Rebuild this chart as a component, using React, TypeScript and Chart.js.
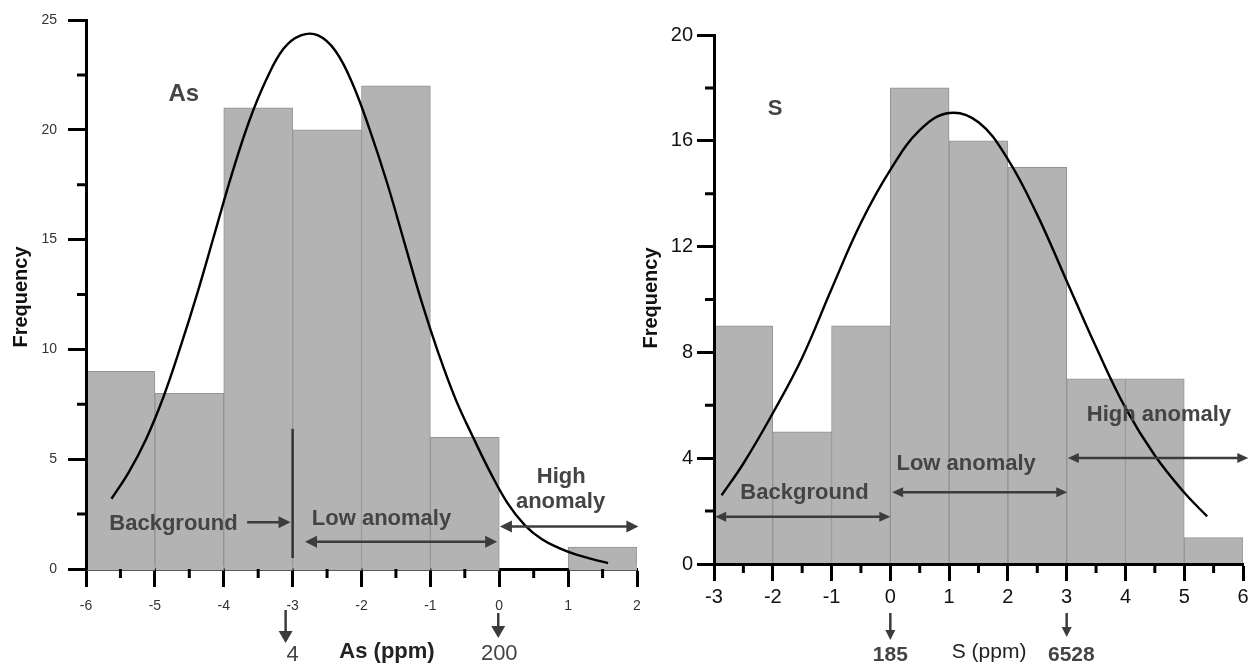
import React, { useEffect, useRef } from "react";
import { Chart, registerables } from "chart.js";

Chart.register(...registerables);

const FONT = "'Liberation Sans', Arial, Helvetica, sans-serif";

// ---------- As histogram (left) ----------
const asBinCenters = [-5.5, -4.5, -3.5, -2.5, -1.5, -0.5, 0.5, 1.5];
const asFrequencies = [9, 8, 21, 20, 22, 6, 0, 1];
const asCurveX = [-5.63, -5.38, -5.13, -4.88, -4.63, -4.38, -4.13, -3.88, -3.63, -3.38, -3.13, -2.88, -2.63, -2.38, -2.13, -1.88, -1.63, -1.38, -1.13, -0.88, -0.63, -0.38, -0.13, 0.12, 0.37, 0.62, 0.87, 1.12, 1.35, 1.58];
const asCurveY = [3.2, 4.4, 5.9, 7.8, 10.1, 12.6, 15.3, 18.0, 20.4, 22.3, 23.7, 24.3, 24.3, 23.6, 22.1, 20.0, 17.6, 14.9, 12.2, 9.8, 7.7, 6.0, 4.4, 3.0, 2.0, 1.35, 0.95, 0.65, 0.45, 0.27];

// ---------- S histogram (right) ----------
const sBinCenters = [-2.5, -1.5, -0.5, 0.5, 1.5, 2.5, 3.5, 4.5, 5.5];
const sFrequencies = [9, 5, 9, 18, 16, 15, 7, 7, 1];
const sCurveX = [-2.87, -2.5, -2.0, -1.5, -1.0, -0.5, 0.0, 0.5, 1.0, 1.5, 2.0, 2.5, 3.0, 3.5, 4.0, 4.5, 5.0, 5.39];
const sCurveY = [2.6, 3.8, 5.7, 7.8, 10.4, 12.9, 14.9, 16.4, 17.05, 16.7, 15.3, 13.2, 10.7, 8.2, 5.9, 4.1, 2.7, 1.8];

type TextItem = { text: string; x: number; y: number; size: number; bold: boolean; color: string };
type HArrow = { x1: number; x2: number; y: number; start: boolean; end: boolean };
type VLine = { x: number; y1: number; y2: number };
type BelowArrow = { x: number; dx: number; dy1: number; dy2: number };
type BelowText = { text: string; x: number; dy: number; size: number; bold: boolean; color: string };

interface PanelSpec {
  left: number;
  width: number;
  height: number;
  area: { left: number; right: number; top: number; bottom: number };
  xMin: number;
  xMax: number;
  yMax: number;
  yStep: number;
  yMinorOffset: number;
  binCenters: number[];
  freqs: number[];
  curveX: number[];
  curveY: number[];
  tickSize: number;
  tickColor: string;
  xPad: number;
  yPad: number;
  majorLen: number;
  minorLen: number;
  axisOverBars: boolean;
  texts: TextItem[];
  arrows: HArrow[];
  vlines: VLine[];
  belowArrows: BelowArrow[];
  belowTexts: BelowText[];
  yTitle: { x: number; y: number; size: number };
  headLen: number;
  headHalf: number;
  vHeadLen: number;
  vHeadHalf: number;
}

const ANN = "#444444";
const BAR_FILL = "#b3b3b3";

const asPanel: PanelSpec = {
  left: 0,
  width: 645,
  height: 663,
  area: { left: 86, right: 637, top: 20, bottom: 569 },
  xMin: -6,
  xMax: 2,
  yMax: 25,
  yStep: 5,
  yMinorOffset: 2.5,
  binCenters: asBinCenters,
  freqs: asFrequencies,
  curveX: asCurveX,
  curveY: asCurveY,
  tickSize: 14,
  tickColor: "#333",
  xPad: 11,
  yPad: 11,
  majorLen: 18,
  minorLen: 9,
  axisOverBars: false,
  texts: [
    { text: "As", x: -4.58, y: 21.31, size: 24, bold: true, color: ANN },
    { text: "Background", x: -4.73, y: 1.78, size: 22, bold: true, color: ANN },
    { text: "Low anomaly", x: -1.71, y: 2.0, size: 22, bold: true, color: ANN },
    { text: "High", x: 0.9, y: 3.92, size: 22, bold: true, color: ANN },
    { text: "anomaly", x: 0.89, y: 2.78, size: 22, bold: true, color: ANN },
  ],
  arrows: [
    { x1: -3.66, x2: -3.03, y: 2.13, start: false, end: true },
    { x1: -2.82, x2: -0.03, y: 1.24, start: true, end: true },
    { x1: 0.01, x2: 2.02, y: 1.93, start: true, end: true },
  ],
  vlines: [{ x: -3, y1: 0.5, y2: 6.38 }],
  belowArrows: [
    { x: -3, dx: -7, dy1: 41, dy2: 74 },
    { x: 0, dx: -1, dy1: 44, dy2: 69 },
  ],
  belowTexts: [
    { text: "4", x: -3, dy: 92, size: 22, bold: false, color: ANN },
    { text: "As (ppm)", x: -1.63, dy: 89, size: 22, bold: true, color: "#222" },
    { text: "200", x: 0, dy: 91, size: 22, bold: false, color: ANN },
  ],
  yTitle: { x: 27, y: 297, size: 20 },
  headLen: 12,
  headHalf: 6,
  vHeadLen: 12,
  vHeadHalf: 7,
};

const sPanel: PanelSpec = {
  left: 630,
  width: 624,
  height: 663,
  area: { left: 84, right: 613, top: 35, bottom: 564 },
  xMin: -3,
  xMax: 6,
  yMax: 20,
  yStep: 4,
  yMinorOffset: 2,
  binCenters: sBinCenters,
  freqs: sFrequencies,
  curveX: sCurveX,
  curveY: sCurveY,
  tickSize: 20,
  tickColor: "#111",
  xPad: 4,
  yPad: 4,
  majorLen: 17,
  minorLen: 9,
  axisOverBars: true,
  texts: [
    { text: "S", x: -1.96, y: 16.98, size: 22, bold: true, color: ANN },
    { text: "Background", x: -1.46, y: 2.46, size: 22, bold: true, color: ANN },
    { text: "Low anomaly", x: 1.29, y: 3.55, size: 22, bold: true, color: ANN },
    { text: "High anomaly", x: 4.57, y: 5.41, size: 22, bold: true, color: ANN },
  ],
  arrows: [
    { x1: -2.98, x2: 0.0, y: 1.79, start: true, end: true },
    { x1: 0.03, x2: 3.01, y: 2.71, start: true, end: true },
    { x1: 3.02, x2: 6.09, y: 4.01, start: true, end: true },
  ],
  vlines: [],
  belowArrows: [
    { x: 0, dx: 0, dy1: 49, dy2: 76 },
    { x: 3, dx: 0, dy1: 49, dy2: 73 },
  ],
  belowTexts: [
    { text: "185", x: 0, dy: 97, size: 21, bold: true, color: ANN },
    { text: "S (ppm)", x: 1.68, dy: 94, size: 21, bold: false, color: "#222" },
    { text: "6528", x: 3.08, dy: 97, size: 21, bold: true, color: ANN },
  ],
  yTitle: { x: 27, y: 298, size: 20 },
  headLen: 11,
  headHalf: 5,
  vHeadLen: 10,
  vHeadHalf: 5,
};

function head(ctx: CanvasRenderingContext2D, tx: number, ty: number, dx: number, dy: number, len: number, half: number) {
  const bx = tx - dx * len;
  const by = ty - dy * len;
  const px = -dy;
  const py = dx;
  ctx.beginPath();
  ctx.moveTo(tx, ty);
  ctx.lineTo(bx + px * half, by + py * half);
  ctx.lineTo(bx - px * half, by - py * half);
  ctx.closePath();
  ctx.fill();
}

function makeDecor(spec: PanelSpec) {
  return {
    id: "decor",
    afterDatasetsDraw(chart: any) {
      if (spec.axisOverBars) return;
      const ctx: CanvasRenderingContext2D = chart.ctx;
      const meta = chart.getDatasetMeta(1);
      ctx.save();
      ctx.fillStyle = BAR_FILL;
      meta.data.forEach((el: any, i: number) => {
        if (!(spec.freqs[i] > 0)) return;
        const p = el.getProps(["x", "base", "width"], true);
        ctx.fillRect(p.x - p.width / 2 + 1, p.base - 2, p.width - 1, 4);
      });
      ctx.restore();
    },
    afterDraw(chart: any) {
      const ctx: CanvasRenderingContext2D = chart.ctx;
      const xs = chart.scales.x;
      const ys = chart.scales.y;
      const bottom = chart.chartArea.bottom;
      const leftEdge = chart.chartArea.left;
      ctx.save();
      // minor ticks
      ctx.strokeStyle = "#000";
      ctx.lineWidth = 3;
      ctx.beginPath();
      for (let v = spec.xMin + 0.5; v < spec.xMax; v += 1) {
        const px = xs.getPixelForValue(v);
        ctx.moveTo(px, bottom);
        ctx.lineTo(px, bottom + spec.minorLen);
      }
      for (let v = spec.yMinorOffset; v < spec.yMax; v += spec.yStep) {
        const py = ys.getPixelForValue(v);
        ctx.moveTo(leftEdge, py);
        ctx.lineTo(leftEdge - spec.minorLen, py);
      }
      ctx.stroke();

      // vertical marker lines
      ctx.strokeStyle = "#333";
      ctx.lineWidth = 2.5;
      spec.vlines.forEach((l) => {
        const px = xs.getPixelForValue(l.x);
        ctx.beginPath();
        ctx.moveTo(px, ys.getPixelForValue(l.y1));
        ctx.lineTo(px, ys.getPixelForValue(l.y2));
        ctx.stroke();
      });

      // horizontal arrows
      ctx.strokeStyle = "#3c3c3c";
      ctx.fillStyle = "#3c3c3c";
      ctx.lineWidth = 2.5;
      spec.arrows.forEach((a) => {
        const x1 = xs.getPixelForValue(a.x1);
        const x2 = xs.getPixelForValue(a.x2);
        const py = ys.getPixelForValue(a.y);
        ctx.beginPath();
        ctx.moveTo(a.start ? x1 + spec.headLen - 1 : x1, py);
        ctx.lineTo(a.end ? x2 - spec.headLen + 1 : x2, py);
        ctx.stroke();
        if (a.start) head(ctx, x1, py, -1, 0, spec.headLen, spec.headHalf);
        if (a.end) head(ctx, x2, py, 1, 0, spec.headLen, spec.headHalf);
      });

      // below-axis arrows
      spec.belowArrows.forEach((a) => {
        const px = xs.getPixelForValue(a.x) + a.dx;
        const y1 = bottom + a.dy1;
        const y2 = bottom + a.dy2;
        ctx.beginPath();
        ctx.moveTo(px, y1);
        ctx.lineTo(px, y2 - spec.vHeadLen + 1);
        ctx.stroke();
        head(ctx, px, y2, 0, 1, spec.vHeadLen, spec.vHeadHalf);
      });

      // texts
      ctx.textAlign = "center";
      ctx.textBaseline = "alphabetic";
      spec.texts.forEach((t) => {
        ctx.font = `${t.bold ? "bold " : ""}${t.size}px ${FONT}`;
        ctx.fillStyle = t.color;
        ctx.fillText(t.text, xs.getPixelForValue(t.x), ys.getPixelForValue(t.y));
      });
      spec.belowTexts.forEach((t) => {
        ctx.font = `${t.bold ? "bold " : ""}${t.size}px ${FONT}`;
        ctx.fillStyle = t.color;
        ctx.fillText(t.text, xs.getPixelForValue(t.x), bottom + t.dy);
      });

      // y title
      ctx.save();
      ctx.translate(spec.yTitle.x, spec.yTitle.y);
      ctx.rotate(-Math.PI / 2);
      ctx.font = `bold ${spec.yTitle.size}px ${FONT}`;
      ctx.fillStyle = "#111";
      ctx.textAlign = "center";
      ctx.textBaseline = "alphabetic";
      ctx.fillText("Frequency", 0, 0);
      ctx.restore();

      ctx.restore();
    },
  };
}

function zeroPad(s: any) {
  s.paddingLeft = 0;
  s.paddingRight = 0;
  s.paddingTop = 0;
  s.paddingBottom = 0;
}

function Panel({ spec }: { spec: PanelSpec }) {
  const ref = useRef<HTMLCanvasElement | null>(null);
  useEffect(() => {
    const canvas = ref.current;
    if (!canvas) return;
    const over = spec.axisOverBars ? 1 : -1;
    const chart = new Chart(canvas, {
      type: "bar",
      data: {
        datasets: [
          {
            type: "line",
            data: spec.curveX.map((x, i) => ({ x, y: spec.curveY[i] })),
            borderColor: "#000",
            borderWidth: 2.4,
            pointRadius: 0,
            tension: 0.4,
            fill: false,
            order: 0,
          } as any,
          {
            type: "bar",
            data: spec.binCenters.map((x, i) => ({ x, y: spec.freqs[i] })),
            backgroundColor: BAR_FILL,
            borderColor: "#939393",
            borderWidth: { top: 1, left: 1, right: 1, bottom: 0 },
            borderSkipped: false,
            barPercentage: 1,
            categoryPercentage: 1,
            order: 1,
          } as any,
        ],
      },
      options: {
        animation: false,
        responsive: false,
        maintainAspectRatio: false,
        events: [],
        layout: {
          padding: { left: 0, top: spec.area.top, right: spec.width - spec.area.right, bottom: 0 },
        },
        plugins: {
          legend: { display: false },
          tooltip: { enabled: false },
          title: { display: false },
        },
        scales: {
          x: {
            type: "linear",
            min: spec.xMin,
            max: spec.xMax,
            offset: false,
            ticks: {
              stepSize: 1,
              autoSkip: false,
              maxRotation: 0,
              padding: spec.xPad,
              color: spec.tickColor,
              font: { family: FONT, size: spec.tickSize },
            },
            grid: {
              offset: false,
              drawOnChartArea: false,
              drawTicks: true,
              tickLength: spec.majorLen,
              tickWidth: 3,
              tickColor: "#000",
              z: over,
            },
            border: { display: true, width: 3, color: "#000", z: spec.axisOverBars ? 1 : 0 },
            afterFit: (s: any) => {
              s.height = spec.height - spec.area.bottom;
              zeroPad(s);
            },
          },
          y: {
            type: "linear",
            min: 0,
            max: spec.yMax,
            ticks: {
              stepSize: spec.yStep,
              padding: spec.yPad,
              color: spec.tickColor,
              font: { family: FONT, size: spec.tickSize },
            },
            grid: {
              drawOnChartArea: false,
              drawTicks: true,
              tickLength: spec.majorLen,
              tickWidth: 3,
              tickColor: "#000",
              z: 1,
            },
            border: { display: true, width: 3, color: "#000", z: 1 },
            afterFit: (s: any) => {
              s.width = spec.area.left;
              zeroPad(s);
            },
          },
        },
      } as any,
      plugins: [makeDecor(spec)],
    });
    return () => chart.destroy();
  }, [spec]);
  return (
    <canvas
      ref={ref}
      width={spec.width}
      height={spec.height}
      style={{ position: "absolute", left: spec.left, top: 0, width: spec.width, height: spec.height }}
    />
  );
}

export default function App() {
  return (
    <div style={{ position: "absolute", left: 0, top: 0, width: 1254, height: 663, background: "#fff", overflow: "hidden" }}>
      <Panel spec={asPanel} />
      <Panel spec={sPanel} />
    </div>
  );
}
